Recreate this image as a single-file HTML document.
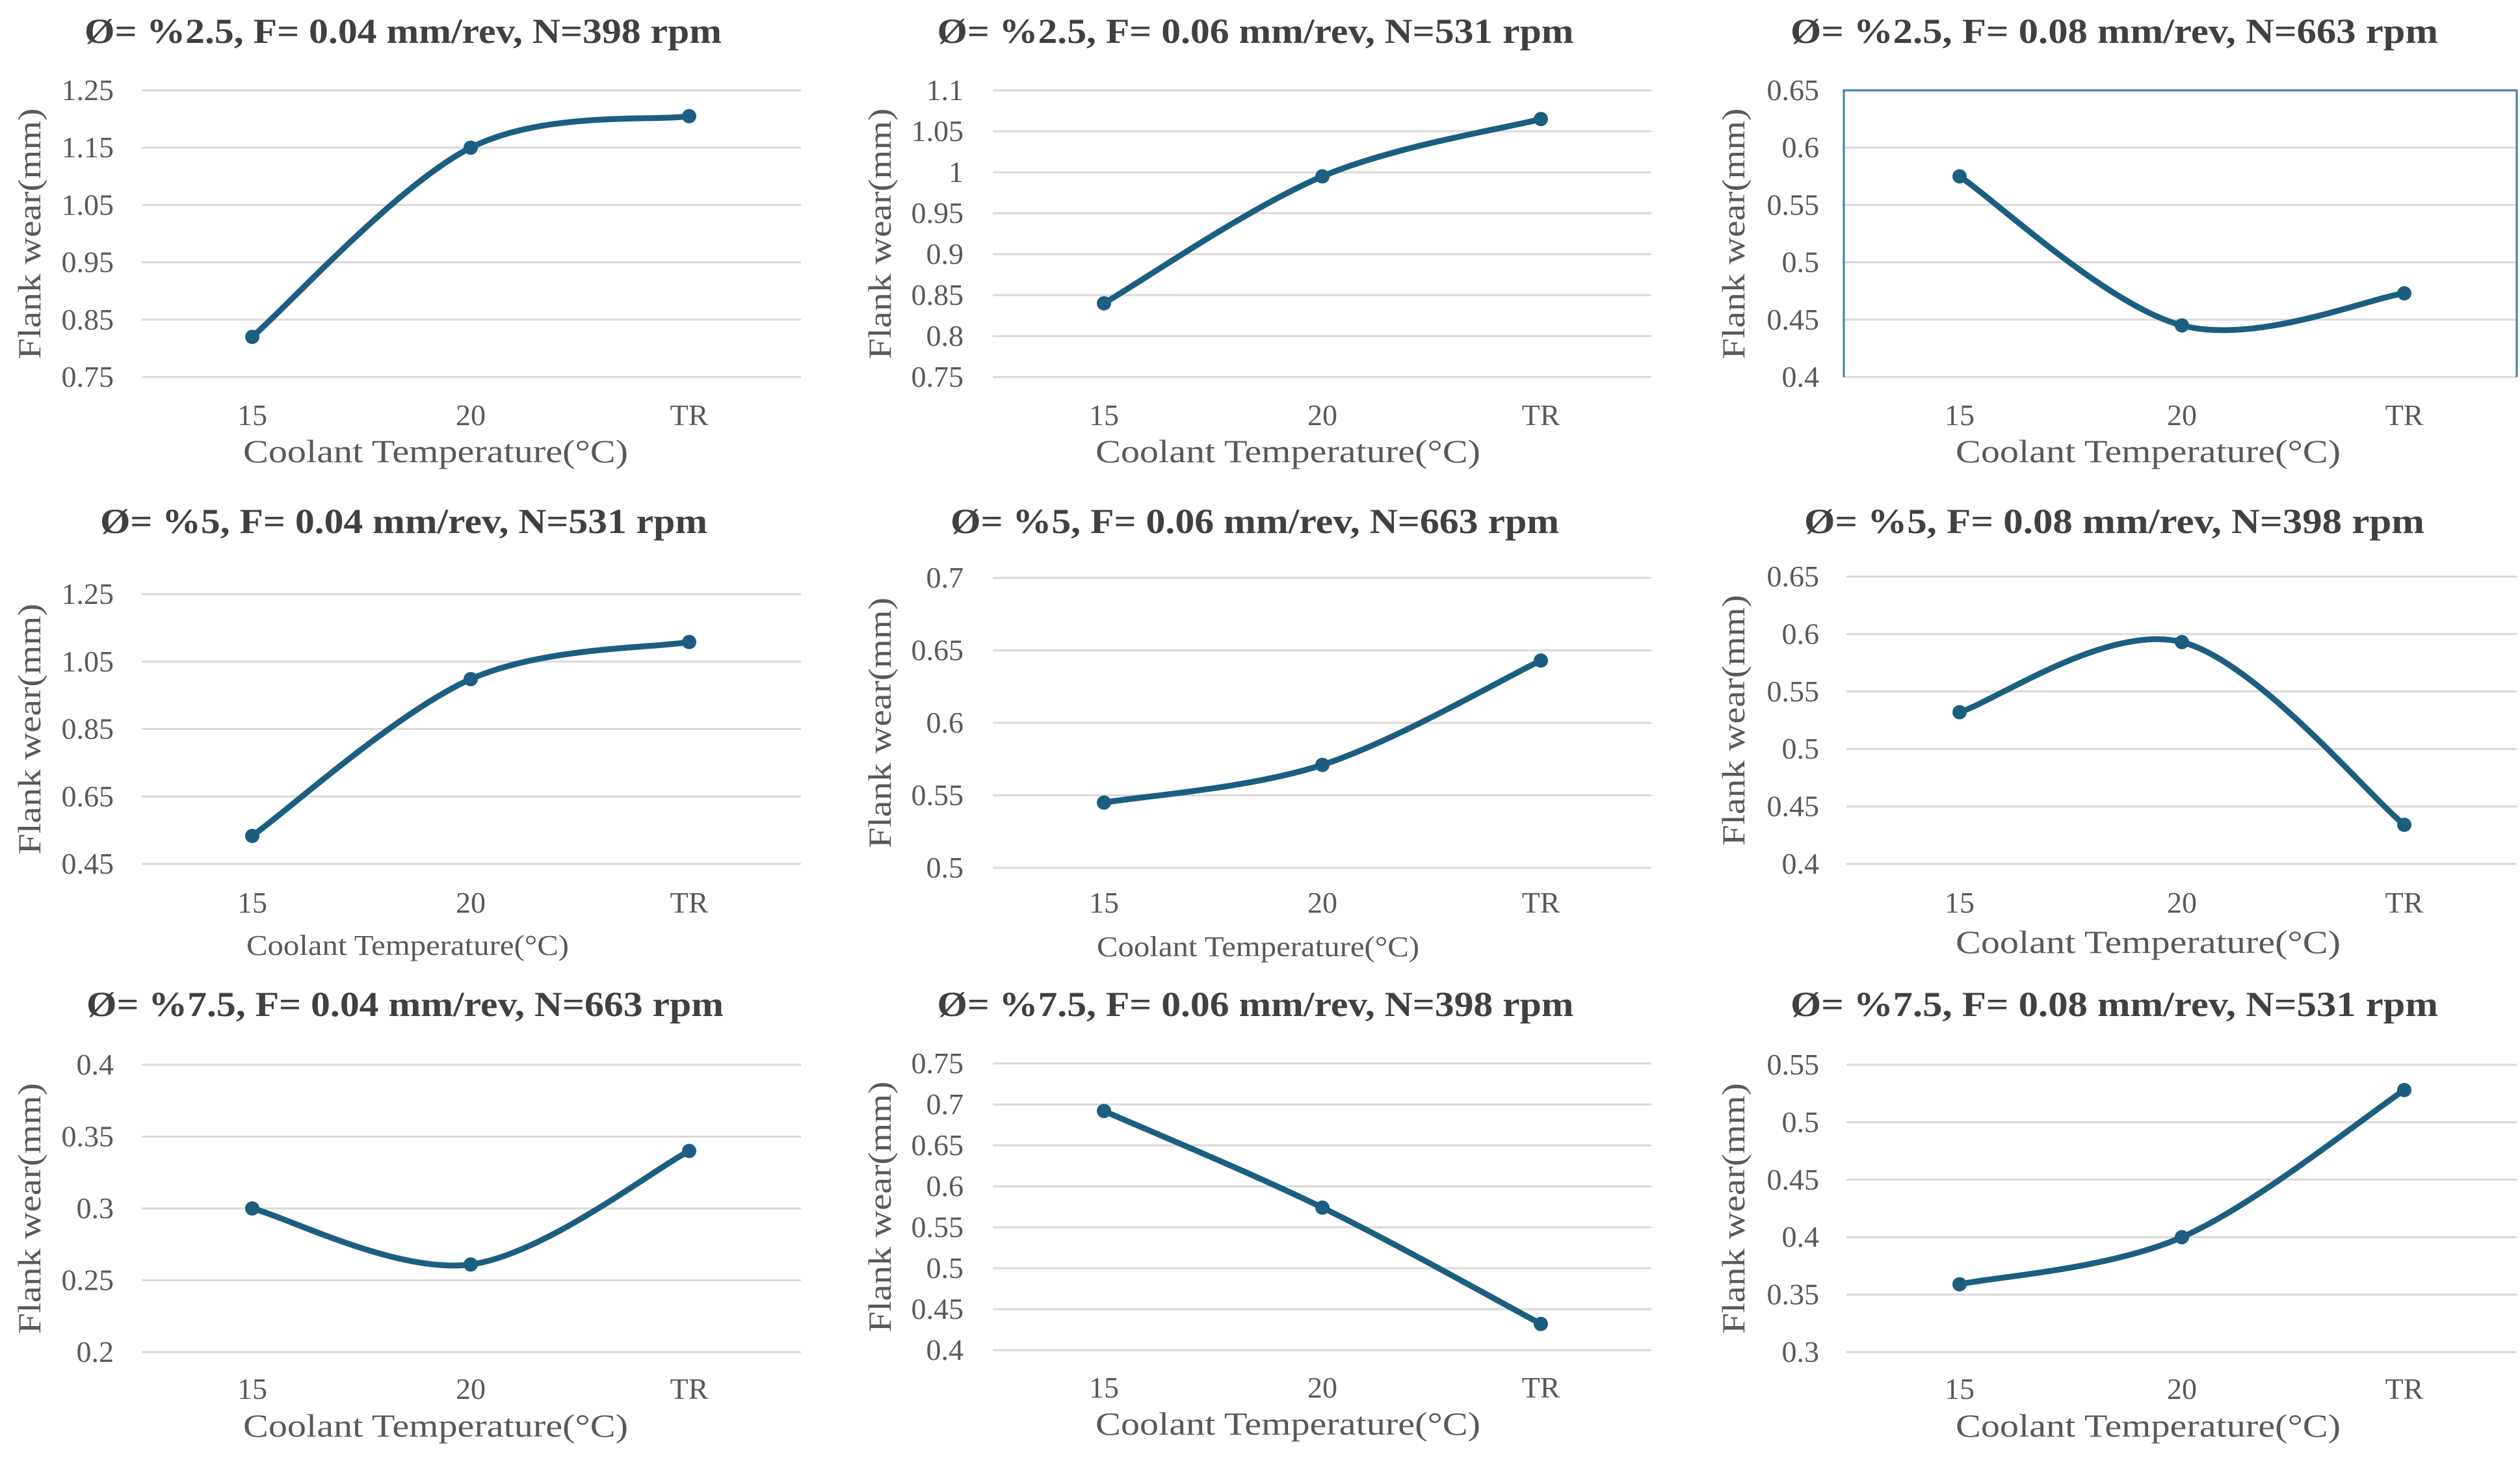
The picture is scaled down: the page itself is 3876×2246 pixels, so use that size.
<!DOCTYPE html>
<html><head><meta charset="utf-8"><style>
html,body{margin:0;padding:0;background:#fff;}
svg{display:block;}
text{font-family:"Liberation Serif",serif;}
</style></head><body>
<svg id="fig" width="3876" height="2246" viewBox="0 0 3876 2246" xmlns="http://www.w3.org/2000/svg"></svg>
<script>
// Categories
const categories = ["15", "20", "TR"];
// Series values (flank wear, mm)
const wear_r1c1 = [0.82, 1.15, 1.205];
const wear_r1c2 = [0.84, 0.995, 1.065];
const wear_r1c3 = [0.575, 0.445, 0.473];
const wear_r2c1 = [0.533, 0.998, 1.108];
const wear_r2c2 = [0.545, 0.571, 0.643];
const wear_r2c3 = [0.532, 0.593, 0.434];
const wear_r3c1 = [0.300, 0.261, 0.340];
const wear_r3c2 = [0.692, 0.574, 0.432];
const wear_r3c3 = [0.359, 0.400, 0.528];
// Tick labels
const ticks_r1c1 = ["0.75","0.85","0.95","1.05","1.15","1.25"];
const ticks_r1c2 = ["0.75","0.8","0.85","0.9","0.95","1","1.05","1.1"];
const ticks_r1c3 = ["0.4","0.45","0.5","0.55","0.6","0.65"];
const ticks_r2c1 = ["0.45","0.65","0.85","1.05","1.25"];
const ticks_r2c2 = ["0.5","0.55","0.6","0.65","0.7"];
const ticks_r2c3 = ["0.4","0.45","0.5","0.55","0.6","0.65"];
const ticks_r3c1 = ["0.2","0.25","0.3","0.35","0.4"];
const ticks_r3c2 = ["0.4","0.45","0.5","0.55","0.6","0.65","0.7","0.75"];
const ticks_r3c3 = ["0.3","0.35","0.4","0.45","0.5","0.55"];
// Titles
const titles = [
 "Ø= %2.5,  F= 0.04 mm/rev, N=398 rpm","Ø= %2.5,  F= 0.06 mm/rev, N=531 rpm","Ø= %2.5,  F= 0.08 mm/rev, N=663 rpm",
 "Ø= %5,  F= 0.04 mm/rev, N=531 rpm","Ø= %5,  F= 0.06 mm/rev, N=663 rpm","Ø= %5,  F= 0.08 mm/rev, N=398 rpm",
 "Ø= %7.5,  F= 0.04 mm/rev, N=663 rpm","Ø= %7.5,  F= 0.06 mm/rev, N=398 rpm","Ø= %7.5,  F= 0.08 mm/rev, N=531 rpm"];

const NS="http://www.w3.org/2000/svg";
const svg=document.getElementById('fig');
function mk(tag,attrs,parent){const e=document.createElementNS(NS,tag);for(const k in attrs)e.setAttribute(k,attrs[k]);(parent||svg).appendChild(e);return e;}

// layout per panel
const layout=[
 {gx0:218,gx1:1232,top:139,bot:580,px:[388,723,1060],tb:66,tc:620,tw:980,lab:175,yt:46,xb:654,xt:711,xc:670,xw:592,xs:50},
 {gx0:1527,gx1:2540,top:139,bot:580,px:[1698,2035,2370],tb:66,tc:1931,tw:979,lab:1482,yt:1354,xb:654,xt:711,xc:1981,xw:592,xs:50},
 {gx0:2836,gx1:3871,top:139,bot:580,px:[3014,3357,3698],tb:66,tc:3252,tw:996,lab:2798,yt:2667,xb:654,xt:711,xc:3304,xw:592,xs:50,box:true},
 {gx0:218,gx1:1232,top:914,bot:1329,px:[388,723,1060],tb:820,tc:621,tw:934,lab:175,yt:46,xb:1404,xt:1469,xc:627,xw:496,xs:44},
 {gx0:1527,gx1:2540,top:889,bot:1335,px:[1698,2035,2370],tb:820,tc:1930,tw:936,lab:1482,yt:1354,xb:1404,xt:1471,xc:1935,xw:496,xs:44},
 {gx0:2840,gx1:3871,top:887,bot:1329,px:[3014,3357,3698],tb:820,tc:3252,tw:954,lab:2798,yt:2667,xb:1404,xt:1466,xc:3304,xw:592,xs:50},
 {gx0:218,gx1:1232,top:1638,bot:2080,px:[388,723,1060],tb:1563,tc:623,tw:980,lab:175,yt:46,xb:2152,xt:2210,xc:670,xw:592,xs:50},
 {gx0:1527,gx1:2540,top:1636,bot:2077,px:[1698,2035,2370],tb:1563,tc:1931,tw:979,lab:1482,yt:1354,xb:2150,xt:2207,xc:1981,xw:592,xs:50},
 {gx0:2840,gx1:3871,top:1638,bot:2080,px:[3014,3357,3698],tb:1563,tc:3252,tw:996,lab:2798,yt:2667,xb:2152,xt:2210,xc:3304,xw:592,xs:50}
];
const series=[wear_r1c1,wear_r1c2,wear_r1c3,wear_r2c1,wear_r2c2,wear_r2c3,wear_r3c1,wear_r3c2,wear_r3c3];
const tickSets=[ticks_r1c1,ticks_r1c2,ticks_r1c3,ticks_r2c1,ticks_r2c2,ticks_r2c3,ticks_r3c1,ticks_r3c2,ticks_r3c3];

for(let i=0;i<9;i++){
  const L=layout[i], vals=series[i], ticks=tickSets[i];
  const g=mk('g',{});
  
  
  const tmin=parseFloat(ticks[0]), tmax=parseFloat(ticks[ticks.length-1]);
  const yScale=v=>L.bot-(v-tmin)/(tmax-tmin)*(L.bot-L.top);
  const xScale=k=>L.px[0]+k*(L.px[2]-L.px[0])/(categories.length-1);
  // gridlines & tick labels
  ticks.forEach(t=>{
    const y=yScale(parseFloat(t));
    const ln=mk('line',{x1:L.gx0,x2:L.gx1,y1:y,y2:y,stroke:'#d9d9d9','stroke-width':3},g);
    
    
    const tx=mk('text',{x:L.lab,y:y+15,'text-anchor':'end','font-size':46,fill:'#595959'},g);
    tx.textContent=t;
    
    
  });
  if(L.box){
    const b=mk('path',{d:`M${L.gx0} ${L.bot} V${L.top} H${L.gx1} V${L.bot}`,fill:'none',stroke:'#3b7ea6','stroke-width':3},g);
    
    
  }
  // x tick labels
  categories.forEach((c,k)=>{
    const tx=mk('text',{x:xScale(k),y:L.xb,'text-anchor':'middle','font-size':46,fill:'#595959'},g);
    tx.textContent=c;
    
    
  });
  // title
  const tt=mk('text',{x:L.tc,y:L.tb,'text-anchor':'middle','font-size':54,'font-weight':'bold',fill:'#404040',textLength:L.tw,lengthAdjust:'spacingAndGlyphs'},g);
  tt.textContent=titles[i];
  
  
  // x axis title
  const xt=mk('text',{x:L.xc,y:L.xt,'text-anchor':'middle','font-size':L.xs,fill:'#595959',textLength:L.xw,lengthAdjust:'spacingAndGlyphs'},g);
  xt.textContent='Coolant Temperature(°C)';
  
  
  // y axis title
  const cy=(L.top+L.bot)/2;
  const yt=mk('text',{x:L.yt,y:cy,'text-anchor':'middle','font-size':50,fill:'#595959',transform:`rotate(-90 ${L.yt} ${cy}) translate(0 16)`,textLength:386,lengthAdjust:'spacingAndGlyphs'},g);
  yt.textContent='Flank wear(mm)';
  
  
  // smoothed line (Catmull-Rom)
  const pts=vals.map((v,k)=>[xScale(k),yScale(v)]);
  let d=`M${pts[0][0]} ${pts[0][1]}`;
  for(let k=0;k<pts.length-1;k++){
    const p0=pts[k-1]||pts[k], p1=pts[k], p2=pts[k+1], p3=pts[k+2]||p2;
    const c1=[p1[0]+(p2[0]-p0[0])/6, p1[1]+(p2[1]-p0[1])/6];
    const c2=[p2[0]-(p3[0]-p1[0])/6, p2[1]-(p3[1]-p1[1])/6];
    d+=` C${c1[0]} ${c1[1]} ${c2[0]} ${c2[1]} ${p2[0]} ${p2[1]}`;
  }
  const path=mk('path',{d:d,fill:'none',stroke:'#1b5e80','stroke-width':9,'stroke-linecap':'round'},g);
  
  
  pts.forEach(p=>{
    const c=mk('circle',{cx:p[0],cy:p[1],r:11,fill:'#1b5e80'},g);
    
    
  });
}
</script>
</body></html>
